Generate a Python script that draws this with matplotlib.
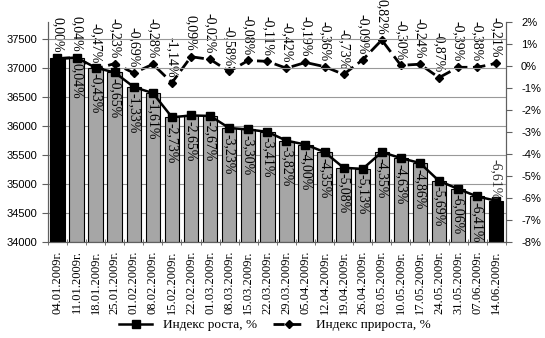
import matplotlib
matplotlib.use("Agg")
import matplotlib.pyplot as plt
from matplotlib.lines import Line2D
import numpy as np

dates = ["04.01.2009г.", "11.01.2009г.", "18.01.2009г.", "25.01.2009г.", "01.02.2009г.",
         "08.02.2009г.", "15.02.2009г.", "22.02.2009г.", "01.03.2009г.", "08.03.2009г.",
         "15.03.2009г.", "22.03.2009г.", "29.03.2009г.", "05.04.2009г.", "12.04.2009г.",
         "19.04.2009г.", "26.04.2009г.", "03.05.2009г.", "10.05.2009г.", "17.05.2009г.",
         "24.05.2009г.", "31.05.2009г.", "07.06.2009г.", "14.06.2009г."]

# index level (left axis)
values = [37170, 37185, 37010, 36928, 36676, 36572, 36155, 36185, 36178, 35969,
          35943, 35903, 35750, 35683, 35553, 35282, 35263, 35553, 35449, 35364,
          35055, 34917, 34787, 34713]
growth_labels = ["0,00%", "0,04%", "-0,43%", "-0,65%", "-1,33%", "-1,61%", "-2,73%", "-2,65%",
                 "-2,67%", "-3,23%", "-3,30%", "-3,41%", "-3,82%", "-4,00%", "-4,35%", "-5,08%",
                 "-5,13%", "-4,35%", "-4,63%", "-4,86%", "-5,69%", "-6,06%", "-6,41%", "-6,61%"]

# weekly increment (right axis), as drawn
increment = [0.34, 0.38, -0.13, 0.11, -0.32, 0.08, -0.76, 0.42, 0.30, -0.25,
             0.25, 0.21, -0.10, 0.16, -0.03, -0.38, 0.28, 1.18, 0.03, 0.08,
             -0.53, -0.06, -0.06, 0.12]
increment_labels = ["0,00%", "0,04%", "-0,47%", "-0,23%", "-0,69%", "-0,28%", "-1,14%", "0,09%",
                    "-0,02%", "-0,58%", "-0,08%", "-0,11%", "-0,42%", "-0,19%", "-0,36%", "-0,73%",
                    "-0,09%", "0,82%", "-0,30%", "-0,24%", "-0,87%", "-0,39%", "-0,38%", "-0,21%"]

left_ticks = [34000, 34500, 35000, 35500, 36000, 36500, 37000, 37500]
right_ticks = [-8, -7, -6, -5, -4, -3, -2, -1, 0, 1, 2]

serif = "Liberation Serif"
sans = "Liberation Sans"

fig = plt.figure(figsize=(5.45, 3.38), dpi=100)
ax = fig.add_axes([0.088, 0.284, 0.84, 0.651])
ax2 = ax.twinx()
ax.set_zorder(ax2.get_zorder() + 1)
ax.patch.set_visible(False)

n = len(values)
x = np.arange(n)
colors = ["black" if i in (0, n - 1) else "#a6a6a6" for i in range(n)]
ax.bar(x, [v - 34000 for v in values], bottom=34000, width=0.76, color=colors,
       edgecolor="black", linewidth=0.8, zorder=2)
ax.plot(x, values, color="black", lw=1.8, marker="s", markersize=6, zorder=4)

ax.set_ylim(34000, 37800)
ax.set_xlim(-0.5, n - 0.5)
ax.set_yticks(left_ticks)
ax.set_yticklabels([str(t) for t in left_ticks], fontfamily=sans, fontsize=8)
ax.yaxis.grid(True, color="#999999", lw=0.8)
ax.set_axisbelow(True)

ax.set_xticks(x)
ax.set_xticklabels(dates, rotation=90, fontfamily=serif, fontsize=9)
ax.tick_params(axis="x", length=0, pad=6)
ax.set_xticks(np.arange(-0.5, n, 1), minor=True)
ax.tick_params(axis="x", which="minor", length=4, direction="inout", color="#606060")
ax.tick_params(axis="y", length=4, color="#606060")

for sp in ["top"]:
    ax.spines[sp].set_visible(False)
    ax2.spines[sp].set_visible(False)
for a in (ax, ax2):
    for sp in ["left", "right", "bottom"]:
        a.spines[sp].set_color("#606060")

ax2.plot(x, increment, color="black", lw=2, linestyle=(0, (4.5, 2)), marker="D",
         markersize=4, zorder=3)
ax2.set_ylim(-8, 2)
ax2.set_yticks(right_ticks)
ax2.set_yticklabels([f"{t}%" for t in right_ticks], fontfamily=sans, fontsize=8)
ax2.tick_params(axis="y", length=4, color="#606060", pad=7)

for i in range(n):
    ax2.annotate(increment_labels[i], (x[i], increment[i]), xytext=(0, 4),
                 textcoords="offset points", rotation=270, ha="center", va="bottom",
                 fontfamily=serif, fontsize=10, annotation_clip=False)

for i in range(1, n):
    if i == n - 1:
        ax.annotate(growth_labels[i], (x[i], values[i]), xytext=(0, 1),
                    textcoords="offset points", rotation=270, ha="center", va="bottom",
                    fontfamily=serif, fontsize=10, color="#303030", zorder=5)
    else:
        ax.annotate(growth_labels[i], (x[i], values[i]), xytext=(0, -4),
                    textcoords="offset points", rotation=270, ha="center", va="top",
                    fontfamily=serif, fontsize=10, zorder=5)

handles = [Line2D([], [], color="black", lw=1.8, marker="s", markersize=6),
           Line2D([], [], color="black", lw=2, linestyle=(0, (4, 2)), marker="D", markersize=4)]
fig.legend(handles, ["Индекс роста, %", "Индекс прироста, %"], loc="center",
           bbox_to_anchor=(0.505, 0.038), ncol=2, frameon=False,
           prop={"family": serif, "size": 9.5}, handlelength=2.5, columnspacing=1.2)

fig.savefig("out.png", dpi=100)
